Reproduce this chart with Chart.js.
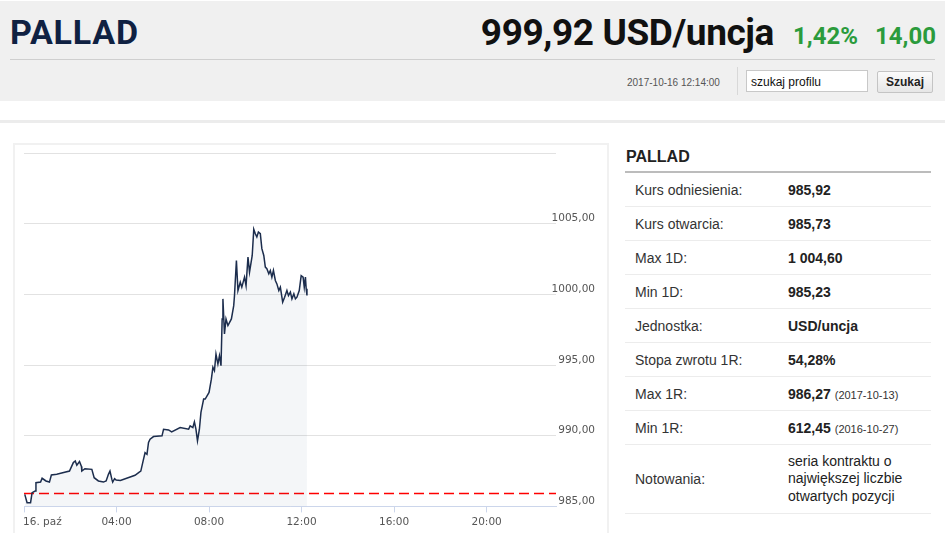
<!DOCTYPE html>
<html lang="pl">
<head>
<meta charset="utf-8">
<title>PALLAD</title>
<script src="https://cdn.jsdelivr.net/npm/chart.js@4/dist/chart.umd.min.js"></script>
<style>
  html, body { margin: 0; padding: 0; background: #fff; width: 945px; height: 533px; overflow: hidden; }
  body { position: relative; font-family: "Liberation Sans", Arial, sans-serif; }
  .head { position: absolute; left: 0; top: 1px; width: 945px; height: 100px; background: #f0f0f0; }
  .title { position: absolute; left: 10px; top: 11px; font: bold 34px Roboto, sans-serif; color: #0f2142; letter-spacing: 0.8px; }
  .price { position: absolute; right: 171px; top: 10px; font: bold 37px Roboto, sans-serif; color: #111; letter-spacing: -0.4px; }
  .chg { position: absolute; top: 21px; font: bold 24px Roboto, sans-serif; color: #2b9b3c; }
  .sep { position: absolute; left: 10px; top: 58px; width: 925px; height: 1px; background: #cfcfcf; }
  .date { position: absolute; left: 627px; top: 76px; font: 10px "Liberation Sans", Arial, sans-serif; color: #555; }
  .vsep { position: absolute; left: 737px; top: 66px; width: 1px; height: 28px; background: #d8d8d8; }
  .search { position: absolute; left: 746px; top: 69px; width: 122px; height: 22px; border: 1px solid #c8c8c8; background: #fff;
            font: 12px "Liberation Sans", Arial, sans-serif; color: #111; line-height: 22px; padding-left: 4px; box-sizing: border-box; }
  .btn { position: absolute; left: 877px; top: 70px; width: 56px; height: 22px; border: 1px solid #c4c4c4; border-radius: 2px;
         background: linear-gradient(#fbfbfb, #e6e6e6); font: bold 12px "Liberation Sans", Arial, sans-serif; color: #222;
         text-align: center; line-height: 21px; box-sizing: border-box; }
  .band { position: absolute; left: 0; top: 120px; width: 945px; height: 3px; background: #ececec; }
  .card { position: absolute; left: 13px; top: 143px; width: 596px; height: 400px; border: 2px solid #f1f1f1; box-sizing: border-box; }
  .chartbox { position: absolute; left: 14px; top: 145px; width: 591px; height: 388px; }
  .panel { position: absolute; left: 625px; top: 146px; width: 306px; }
  .panel h2 { margin: 0; font: bold 16px "Liberation Sans", Arial, sans-serif; color: #222; height: 25px; line-height: 22px; padding-left: 1px;
              border-bottom: 2px solid #bcbcbc; }
  .panel table { border-collapse: collapse; width: 100%; }
  .panel td { font: 14px "Liberation Sans", Arial, sans-serif; color: #333; height: 33px; border-bottom: 1px solid #ececec; padding: 0; vertical-align: middle; }
  .panel td.l { padding-left: 10px; width: 153px; }
  .panel td.v { font-weight: bold; color: #222; }
  .panel td.v small { font-weight: normal; font-size: 11px; color: #333; }
  .panel td.m { font-weight: normal; line-height: 17.5px; height: 68px; }
</style>
</head>
<body>
<div class="head">
  <div class="title">PALLAD</div>
  <div class="price">999,92 USD/uncja</div>
  <div class="chg" style="left:793px">1,42%</div>
  <div class="chg" style="left:875px">14,00</div>
  <div class="sep"></div>
  <div class="date">2017-10-16 12:14:00</div>
  <div class="vsep"></div>
  <div class="search">szukaj profilu</div>
  <div class="btn">Szukaj</div>
</div>
<div class="band"></div>
<div class="card"></div>
<div class="chartbox"><canvas id="chart"></canvas></div>

<div class="panel">
  <h2>PALLAD</h2>
  <table>
    <tr><td class="l">Kurs odniesienia:</td><td class="v">985,92</td></tr>
    <tr><td class="l">Kurs otwarcia:</td><td class="v">985,73</td></tr>
    <tr><td class="l">Max 1D:</td><td class="v">1 004,60</td></tr>
    <tr><td class="l">Min 1D:</td><td class="v">985,23</td></tr>
    <tr><td class="l">Jednostka:</td><td class="v">USD/uncja</td></tr>
    <tr><td class="l">Stopa zwrotu 1R:</td><td class="v">54,28%</td></tr>
    <tr><td class="l">Max 1R:</td><td class="v">986,27 <small>(2017-10-13)</small></td></tr>
    <tr><td class="l">Min 1R:</td><td class="v">612,45 <small>(2016-10-27)</small></td></tr>
    <tr><td class="l">Notowania:</td><td class="v m">seria kontraktu o<br>największej liczbie<br>otwartych pozycji</td></tr>
  </table>
</div>

<script>
// intraday quotes, 16 Oct 2017
const times = [
  "00:02","00:08","00:17","00:21","00:29","00:31","00:43","00:47","00:57","01:06",
  "01:11","01:25","01:58","02:08","02:13","02:17","02:24","02:29","02:30","02:38",
  "02:56","03:02","03:13","03:26","03:33","03:39","03:43","03:48","03:50","03:55",
  "03:59","04:10","04:48","04:59","05:03","05:08","05:14","05:19","05:23","05:27",
  "05:36","05:58","06:02","06:15","06:23","06:45","07:07","07:11","07:18","07:22",
  "07:26","07:30","07:35","07:39","07:46","07:50","08:00","08:06","08:10","08:14",
  "08:18","08:23","08:27","08:31","08:34","08:36","08:40","08:44","08:49","08:58",
  "09:04","09:06","09:11","09:15","09:21","09:25","09:32","09:36","09:41","09:45",
  "09:52","09:56","10:00","10:04","10:08","10:13","10:17","10:22","10:26","10:30",
  "10:35","10:39","10:43","10:47","10:52","10:56","11:01","11:05","11:11","11:16",
  "11:22","11:26","11:31","11:35","11:40","11:44","11:48","11:54","11:59","12:04",
  "12:07","12:10","12:12","12:14"
];
const prices = [
  985.85, 985.26, 985.26, 985.97, 986.09, 986.68, 986.72, 986.99, 986.80, 986.72,
  987.22, 987.27, 987.50, 988.10, 988.21, 987.91, 988.17, 987.82, 987.50, 987.67,
  987.62, 987.03, 986.80, 986.72, 986.80, 987.27, 987.50, 986.91, 986.72, 986.96,
  986.86, 986.84, 987.20, 987.43, 987.50, 988.10, 988.80, 988.69, 989.52, 989.75,
  989.94, 989.99, 990.46, 990.41, 990.27, 990.58, 990.46, 990.70, 990.58, 990.98,
  990.46, 989.63, 990.46, 991.65, 992.59, 992.59, 993.06, 994.00, 994.84, 994.60,
  995.78, 995.07, 995.66, 994.95, 998.26, 999.68, 997.20, 998.26, 997.79, 998.26,
  999.20, 999.91, 1002.40, 1000.27, 1000.86, 1000.51, 1001.22, 1000.62, 1002.64, 1001.57,
  1002.75, 1004.60, 1004.29, 1004.06, 1004.41, 1004.29, 1003.23, 1002.75, 1001.93, 1001.81,
  1001.45, 1001.69, 1001.22, 1001.69, 1000.98, 1000.74, 1000.27, 1000.51, 999.45, 999.80,
  1000.27, 999.91, 1000.16, 999.68, 1000.04, 999.68, 999.80, 1000.27, 1001.33, 1001.22,
  1000.51, 1001.22, 1000.39, 999.92
];
const referencePrice = 985.92;   // Kurs odniesienia
const dayStart = 0, dayEnd = 23;  // hours shown on the axis
const xTickLabels = { 0: "16. paź", 4: "04:00", 8: "08:00", 12: "12:00", 16: "16:00", 20: "20:00" };
const yMin = 985, yMax = 1010, yStep = 5;

function toHours(t) {
  const [h, m] = t.split(":").map(Number);
  return h + m / 60;
}

const quoteData = times.map((t, i) => ({ x: toHours(t), y: prices[i] }));
const refData = [{ x: dayStart, y: referencePrice }, { x: dayEnd, y: referencePrice }];

const tickFont = { family: "DejaVu Sans", size: 10.5 };

new Chart(document.getElementById("chart"), {
  type: "line",
  data: {
    datasets: [
      {
        label: "PALLAD",
        data: quoteData,
        borderColor: "#1c2d4d",
        borderWidth: 1.5,
        backgroundColor: "rgba(40,70,120,0.05)",
        fill: "start",
        pointRadius: 0,
        tension: 0
      },
      {
        label: "Kurs odniesienia",
        data: refData,
        borderColor: "#ff0000",
        borderWidth: 1.5,
        borderDash: [10, 5],
        pointRadius: 0,
        fill: false
      }
    ]
  },
  options: {
    responsive: true,
    maintainAspectRatio: false,
    animation: false,
    layout: { padding: { left: 10, top: 8, right: 10, bottom: 0 } },
    plugins: { legend: { display: false }, tooltip: { enabled: false } },
    scales: {
      x: {
        type: "linear",
        min: dayStart,
        max: dayEnd,
        grid: { drawOnChartArea: false, drawTicks: true, tickLength: 6, color: "#ccd6eb" },
        border: { color: "#ccd6eb" },
        afterFit: (scale) => { scale.paddingLeft = 0; scale.paddingRight = 0; },
        ticks: {
          stepSize: 4,
          includeBounds: false,
          autoSkip: false,
          maxRotation: 0,
          padding: 4,
          color: "#555",
          font: tickFont,
          // first label starts at its tick, like the original
          callback: (v) => v === 0 ? "\u2003\u2003\u2003\u2002" + xTickLabels[v] : (xTickLabels[v] || "")
        }
      },
      y: {
        position: "right",
        min: yMin,
        max: yMax,
        grid: { drawTicks: false, color: "#e2e2e2" },
        border: { display: false },
        afterFit: (scale) => {
          scale.width = 39;
          // labels overlap the grid end a bit, don't clip them to the axis box
          scale._computeLabelArea = () => undefined;
        },
        ticks: {
          stepSize: yStep,
          padding: -4,
          crossAlign: "far",
          labelOffset: -5,
          color: "#555",
          font: tickFont,
          callback: (v) => v === yMax ? "" : v.toFixed(2).replace(".", ",")
        }
      }
    }
  }
});
</script>
</body>
</html>
